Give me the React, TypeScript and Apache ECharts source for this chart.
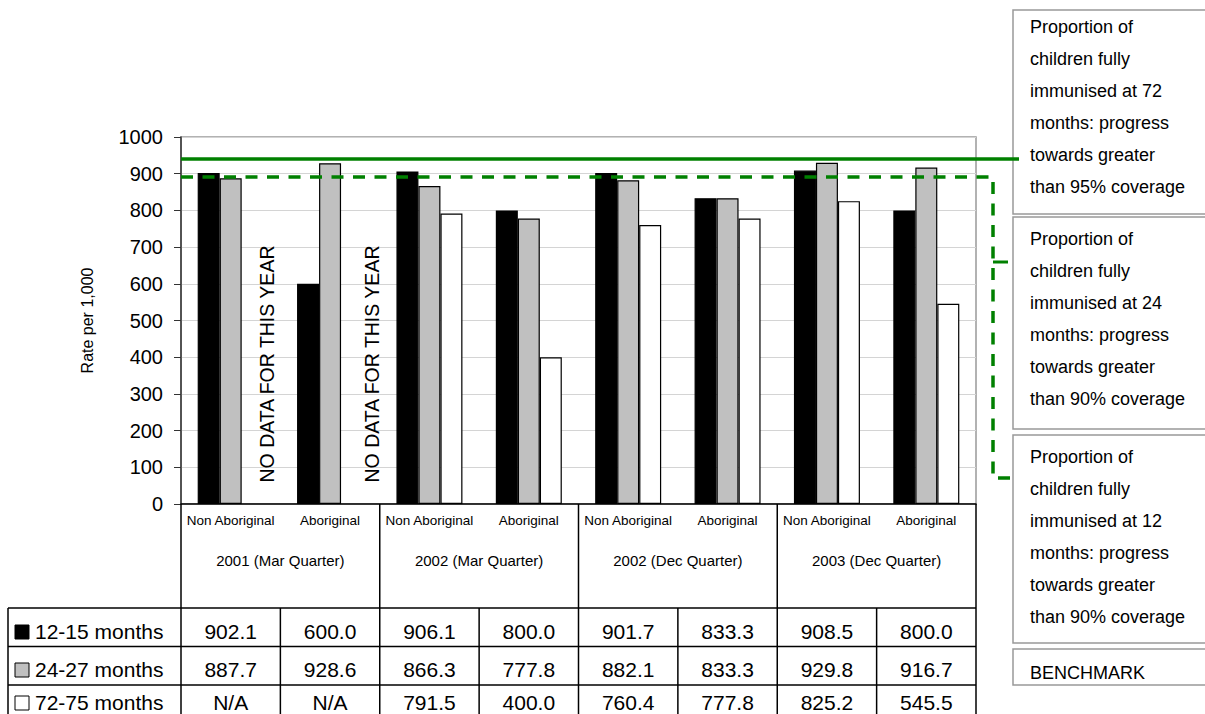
import { useEffect, useRef } from "react";
import * as echarts from "echarts";

const subgroups = [
  "Non Aboriginal", "Aboriginal",
  "Non Aboriginal", "Aboriginal",
  "Non Aboriginal", "Aboriginal",
  "Non Aboriginal", "Aboriginal",
];
const quarters = ["2001 (Mar Quarter)", "2002 (Mar Quarter)", "2002 (Dec Quarter)", "2003 (Dec Quarter)"];
const seriesNames = ["12-15 months", "24-27 months", "72-75 months"];
const months12 = [902.1, 600.0, 906.1, 800.0, 901.7, 833.3, 908.5, 800.0];
const months24 = [887.7, 928.6, 866.3, 777.8, 882.1, 833.3, 929.8, 916.7];
const months72: (number | null)[] = [null, null, 791.5, 400.0, 760.4, 777.8, 825.2, 545.5];
const seriesColors = ["#000000", "#c0c0c0", "#ffffff"];
const yMin = 0;
const yMax = 1000;
const yInterval = 100;
const yName = "Rate per 1,000";
const benchmark72 = 940;
const benchmark24 = 891;
const noDataText = "NO DATA FOR THIS YEAR";
const boxTexts = [
  "Proportion of\nchildren fully\nimmunised at 72\nmonths: progress\ntowards greater\nthan 95% coverage",
  "Proportion of\nchildren fully\nimmunised at 24\nmonths: progress\ntowards greater\nthan 90% coverage",
  "Proportion of\nchildren fully\nimmunised at 12\nmonths: progress\ntowards greater\nthan 90% coverage",
  "BENCHMARK",
];

const FONT = "'Liberation Sans', Arial, sans-serif";
const GREEN = "#008000";

export default function App() {
  const ref = useRef<HTMLDivElement>(null);
  useEffect(() => {
    if (!ref.current) return;
    const chart = echarts.init(ref.current, undefined, { renderer: "svg" });
    const allSeries = [months12, months24, months72];
    chart.setOption({
      animation: false,
      backgroundColor: "#ffffff",
      grid: {
        left: 181,
        right: 229,
        top: 137,
        bottom: 210,
        show: true,
        borderColor: "#999999",
        borderWidth: 1.5,
        backgroundColor: "transparent",
      },
      xAxis: {
        type: "category",
        data: subgroups,
        axisLine: { show: true, lineStyle: { color: "#000", width: 1.5 } },
        axisTick: { show: false },
        axisLabel: { interval: 0, fontSize: 13.5, color: "#000", fontFamily: FONT, margin: 9 },
      },
      yAxis: {
        type: "value",
        min: yMin,
        max: yMax,
        interval: yInterval,
        name: yName,
        nameLocation: "middle",
        nameGap: 86,
        nameTextStyle: { fontSize: 16, color: "#000", fontFamily: FONT },
        axisLine: { show: true, lineStyle: { color: "#333", width: 1.5 } },
        axisTick: { show: true, length: 7, lineStyle: { color: "#333" } },
        axisLabel: {
          fontSize: 20,
          color: "#000",
          fontFamily: FONT,
          margin: 18,
          formatter: (v: number) => String(v),
        },
        splitLine: { show: true, lineStyle: { color: "#d4d4d4", width: 1.2 } },
      },
      series: allSeries.map((d, k) => ({
        name: seriesNames[k],
        type: "bar",
        data: d,
        barWidth: 22,
        barGap: "0%",
        itemStyle: { color: seriesColors[k], borderColor: "#000", borderWidth: 1.2 },
      })),
    });

    const y0 = chart.convertToPixel({ yAxisIndex: 0 }, 0) as number;
    const c0 = chart.convertToPixel({ xAxisIndex: 0 }, 0) as number;
    const c1 = chart.convertToPixel({ xAxisIndex: 0 }, 1) as number;
    const band = c1 - c0;
    const boundary = (i: number) => c0 - band / 2 + i * band;
    const yB72 = chart.convertToPixel({ yAxisIndex: 0 }, benchmark72) as number;
    const yB24 = chart.convertToPixel({ yAxisIndex: 0 }, benchmark24) as number;

    const lineStyle = { stroke: "#000", lineWidth: 1.5 };
    const g: any[] = [];
    const tableTop = 608;
    const rowH = 38.5;
    const tableLeft = 8;
    const right = boundary(8);

    // group frames under axis
    for (let i = 0; i <= 8; i += 2) {
      g.push({ type: "line", shape: { x1: boundary(i), y1: y0, x2: boundary(i), y2: tableTop }, style: lineStyle, z: 50 });
    }
    quarters.forEach((q, k) => {
      g.push({
        type: "text",
        x: (boundary(2 * k) + boundary(2 * k + 2)) / 2,
        y: 560,
        style: { text: q, fontSize: 15, fill: "#000", fontFamily: FONT, align: "center", verticalAlign: "middle" },
        z: 50,
      });
    });
    // table horizontal lines
    for (let r = 0; r < 3; r++) {
      g.push({ type: "line", shape: { x1: tableLeft, y1: tableTop + r * rowH, x2: right, y2: tableTop + r * rowH }, style: lineStyle, z: 50 });
    }
    // table vertical lines
    g.push({ type: "line", shape: { x1: tableLeft, y1: tableTop, x2: tableLeft, y2: 714 }, style: lineStyle, z: 50 });
    for (let i = 0; i <= 8; i++) {
      g.push({ type: "line", shape: { x1: boundary(i), y1: tableTop, x2: boundary(i), y2: 714 }, style: lineStyle, z: 50 });
    }
    // table rows
    const rowCenters = [631, 669, 702];
    allSeries.forEach((d, r) => {
      const cy = rowCenters[r];
      g.push({
        type: "rect",
        shape: { x: 15, y: cy - 6, width: 14, height: 14 },
        style: { fill: seriesColors[r], stroke: "#000", lineWidth: 1 },
        z: 50,
      });
      g.push({
        type: "text",
        x: 35,
        y: cy,
        style: { text: seriesNames[r], fontSize: 21, fill: "#000", fontFamily: FONT, align: "left", verticalAlign: "middle" },
        z: 50,
      });
      d.forEach((v, i) => {
        g.push({
          type: "text",
          x: boundary(i) + band / 2,
          y: cy,
          style: {
            text: v == null ? "N/A" : v.toFixed(1),
            fontSize: 21,
            fill: "#000",
            fontFamily: FONT,
            align: "center",
            verticalAlign: "middle",
          },
          z: 50,
        });
      });
    });
    // no data labels
    months72.forEach((v, i) => {
      if (v != null) return;
      const xs = [267, 372];
      g.push({
        type: "text",
        x: xs[i] ?? boundary(i) + band * 0.85,
        y: 364,
        rotation: Math.PI / 2,
        style: { text: noDataText, fontSize: 19.5, fill: "#000", fontFamily: FONT, align: "center", verticalAlign: "middle" },
        z: 60,
      });
    });
    // benchmark lines
    g.push({
      type: "line",
      shape: { x1: boundary(0), y1: yB72, x2: 1019, y2: yB72 },
      style: { stroke: GREEN, lineWidth: 3.5 },
      z: 100,
    });
    g.push({
      type: "polyline",
      shape: { points: [[boundary(0), yB24], [993, yB24], [993, 478], [1013, 478]] },
      style: { stroke: GREEN, lineWidth: 3.5, lineDash: [12, 9.5], fill: null },
      z: 100,
    });
    g.push({
      type: "line",
      shape: { x1: 993, y1: 262, x2: 1008, y2: 262 },
      style: { stroke: GREEN, lineWidth: 3 },
      z: 100,
    });
    // right boxes
    const boxes = [
      { y: 10, h: 204, ty: 11 },
      { y: 217, h: 212, ty: 223 },
      { y: 435, h: 208, ty: 441 },
      { y: 649, h: 36, ty: 657 },
    ];
    boxes.forEach((b, k) => {
      g.push({
        type: "rect",
        shape: { x: 1013, y: b.y, width: 220, height: b.h },
        style: { fill: "#fff", stroke: "#999", lineWidth: 1.5 },
        z: 40,
      });
      g.push({
        type: "text",
        x: 1030,
        y: b.ty,
        style: {
          text: boxTexts[k],
          fontSize: 18,
          lineHeight: 32,
          fill: "#000",
          fontFamily: FONT,
          align: "left",
          verticalAlign: "top",
        },
        z: 41,
      });
    });

    chart.setOption({ graphic: g });
    return () => chart.dispose();
  }, []);
  return (
    <div
      ref={ref}
      style={{ position: "fixed", left: 0, top: 0, width: 1205, height: 714, background: "#fff" }}
    />
  );
}
